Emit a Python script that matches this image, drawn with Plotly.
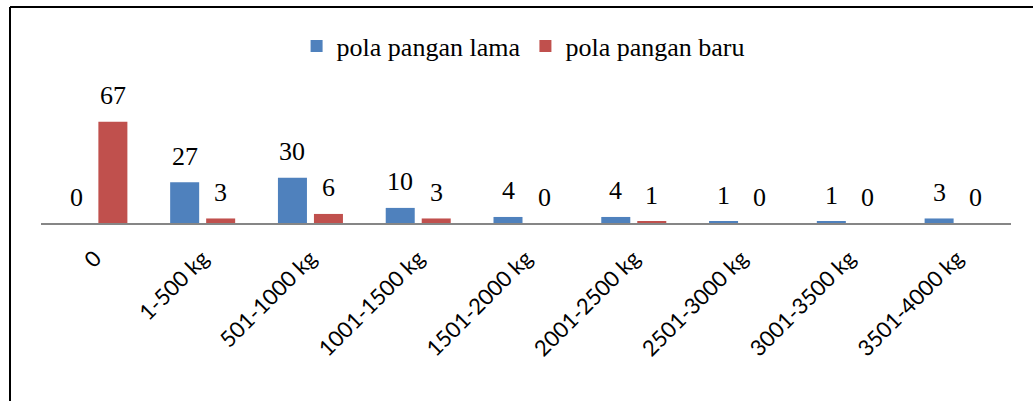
import plotly.graph_objects as go

categories = ["0", "1-500 kg", "501-1000 kg", "1001-1500 kg", "1501-2000 kg",
              "2001-2500 kg", "2501-3000 kg", "3001-3500 kg", "3501-4000 kg"]
lama = [0, 27, 30, 10, 4, 4, 1, 1, 3]
baru = [67, 3, 6, 3, 0, 1, 0, 0, 0]
series_names = ["pola pangan lama", "pola pangan baru"]
colors = ["#4F81BD", "#C0504D"]

W, H = 1033, 401
ml, mr, mt, mb = 41, 22, 20, 178
plot_h = H - mt - mb
px_per_unit = 1.51
ymax = plot_h / px_per_unit

fig = go.Figure()
for name, vals, col in zip(series_names, [lama, baru], colors):
    fig.add_trace(go.Bar(x=categories, y=vals, name=name, marker_color=col,
                         marker_line_width=0))

serif = "Liberation Serif, Times New Roman, serif"
annotations = []
for vals, shift in [(lama, -18), (baru, 18)]:
    for c, v in zip(categories, vals):
        annotations.append(dict(x=c, y=v, text=str(v), showarrow=False,
                                xref="x", yref="y", xshift=shift, yshift=26,
                                yanchor="middle",
                                font=dict(family=serif, size=26, color="black")))

fig.update_layout(
    width=W, height=H,
    margin=dict(l=ml, r=mr, t=mt, b=mb),
    plot_bgcolor="white", paper_bgcolor="white",
    barmode="group", bargap=0.332, bargroupgap=0.194,
    showlegend=True,
    legend=dict(orientation="h", x=0.497, xanchor="center",
                y=1 - (46 - mt) / plot_h, yanchor="middle",
                font=dict(family=serif, size=26, color="black"),
                itemwidth=30, tracegroupgap=0, bgcolor="rgba(0,0,0,0)"),
    xaxis=dict(showline=True, linecolor="#868686", linewidth=1.5,
               ticks="", tickangle=-45, showgrid=False, ticklabelstandoff=12,
               tickfont=dict(family="Lato, Carlito, Calibri, sans-serif", size=22, color="black")),
    yaxis=dict(visible=False, range=[0, ymax], showgrid=False, zeroline=False),
    annotations=annotations,
    shapes=[
        dict(type="line", xref="paper", yref="paper",
             x0=(10 - ml) / (W - ml - mr), x1=(10 - ml) / (W - ml - mr),
             y0=1 + (mt - 7) / plot_h, y1=-(mb + 5) / plot_h,
             line=dict(color="black", width=2)),
        dict(type="line", xref="paper", yref="paper",
             x0=(10 - ml) / (W - ml - mr), x1=(W + 5 - ml) / (W - ml - mr),
             y0=1 + (mt - 7) / plot_h, y1=1 + (mt - 7) / plot_h,
             line=dict(color="black", width=2)),
    ],
)

fig.write_html("out.html", config={"displayModeBar": False},
               post_script="document.body.style.margin='0px';")
